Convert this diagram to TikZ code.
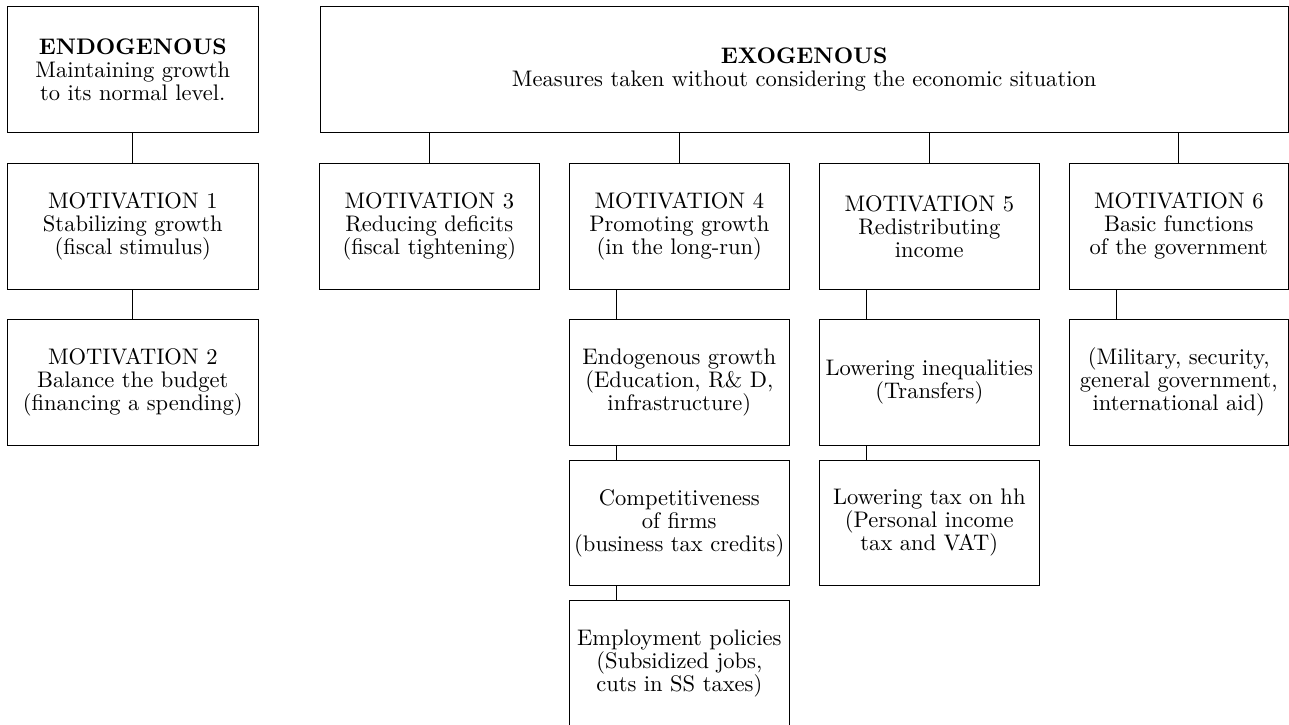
\documentclass[tikz,border=0pt]{standalone}
\usetikzlibrary{calc}
\def\pxu{0.444pt}
\tikzset{
  box/.style={draw, rectangle, align=center, inner xsep=0pt, inner ysep=1pt,
    font=\fontsize{10pt}{10.2pt}\selectfont,
    minimum width=220*\pxu, minimum height=125.7*\pxu},
  wide/.style={minimum width=251*\pxu},
  link/.style={draw, line width=0.45pt}
}
\begin{document}
\begin{tikzpicture}[x=\pxu, y=-\pxu]
\useasboundingbox (0,0) rectangle (1289,724);
% top row
\node[box, wide, minimum height=126*\pxu] (endo) at (132.8,69.7)
  {\textbf{ENDOGENOUS}\\Maintaining growth\\to its normal level.};
\node[box, minimum width=968.3*\pxu, minimum height=126*\pxu] (exo) at (804.15,69.7)
  {\textbf{EXOGENOUS}\\Measures taken without considering the economic situation};
% motivations
\node[box, wide] (m1) at (132.8,226.2) {MOTIVATION 1\\Stabilizing growth\\(fiscal stimulus)};
\node[box, wide] (m2) at (132.8,382.2) {MOTIVATION 2\\Balance the budget\\(financing a spending)};
\node[box] (m3) at (429.3,226.2) {MOTIVATION 3\\Reducing deficits\\(fiscal tightening)};
\node[box] (m4) at (679.3,226.2) {MOTIVATION 4\\Promoting growth\\(in the long-run)};
\node[box] (m5) at (929.3,226.2) {MOTIVATION 5\\Redistributing\\income};
\node[box, minimum width=219*\pxu] (m6) at (1178.8,226.2) {MOTIVATION 6\\Basic functions\\of the government};
% sub boxes
\node[box] (eg) at (679.3,382.2) {Endogenous growth\\(Education, R\& D,\\infrastructure)};
\node[box] (cf) at (679.3,522.9) {Competitiveness\\of firms\\(business tax credits)};
\node[box] (ep) at (679.3,663.6) {Employment policies\\(Subsidized jobs,\\cuts in SS taxes)};
\node[box] (li) at (929.3,382.2) {Lowering inequalities\\(Transfers)};
\node[box] (lt) at (929.3,522.9) {Lowering tax on hh\\(Personal income\\tax and VAT)};
\node[box, minimum width=219*\pxu] (mil) at (1178.8,382.2) {(Military, security,\\general government,\\international aid)};
% connectors
\draw[link] (endo.south) -- (m1.north);
\draw[link] (m1.south) -- (m2.north);
\foreach \m in {m3,m4,m5,m6}{
  \draw[link] (\m.north) -- (\m.north |- exo.south);
}
\draw[link] ($(m4.south west)+(47.4,0)$) -- ($(eg.north west)+(47.4,0)$);
\draw[link] ($(eg.south west)+(47.4,0)$) -- ($(cf.north west)+(47.4,0)$);
\draw[link] ($(cf.south west)+(47.4,0)$) -- ($(ep.north west)+(47.4,0)$);
\draw[link] ($(m5.south west)+(47.4,0)$) -- ($(li.north west)+(47.4,0)$);
\draw[link] ($(li.south west)+(47.4,0)$) -- ($(lt.north west)+(47.4,0)$);
\draw[link] ($(m6.south west)+(47.4,0)$) -- ($(mil.north west)+(47.4,0)$);
\end{tikzpicture}
\end{document}
